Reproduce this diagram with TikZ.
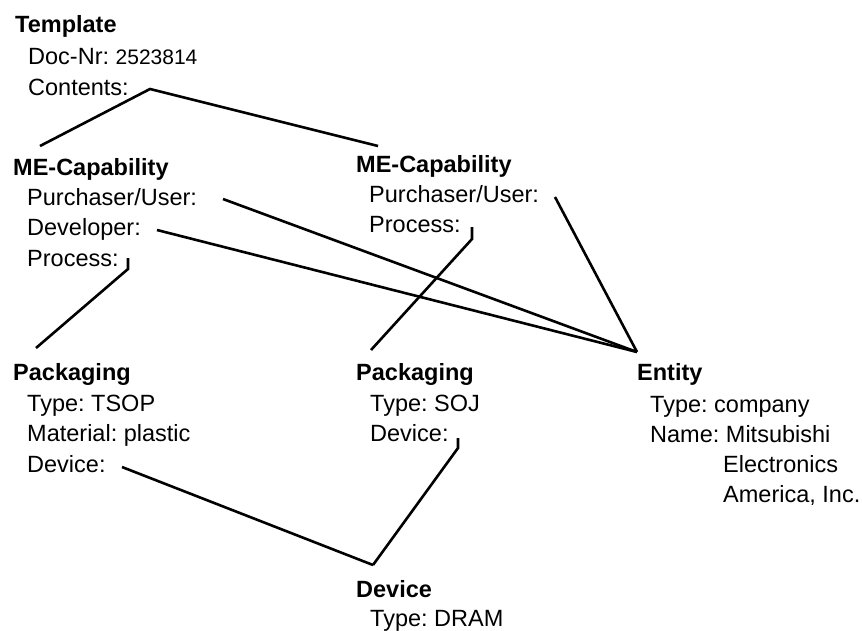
\documentclass[tikz,border=0pt]{standalone}
\usepackage{fontspec}
\setmainfont{Liberation Sans}
\frenchspacing
\begin{document}
\begin{tikzpicture}[x=1pt,y=-1pt,
  txt/.style={anchor=base west,inner sep=0pt,font=\fontsize{23.5}{28}\selectfont\frenchspacing},
  hdr/.style={txt,font=\fontsize{23.5}{28}\selectfont\bfseries\frenchspacing},
  conn/.style={line width=2.6pt,line join=miter}]
\useasboundingbox (0,0) rectangle (862,630);
% Template
\node[hdr] (tpl) at (15,32) {Template};
\node[txt] (tplnr) at (28,64) {Doc-Nr: {\fontsize{21}{26}\selectfont 2523814}};
\node[txt] (tplcont) at (28,95) {Contents:};
% ME-Capability 1
\node[hdr] (me1) at (13,175) {ME-Capability};
\node[txt] (me1pu) at (27,205) {Purchaser/User:};
\node[txt] (me1dev) at (27,235) {Developer:};
\node[txt] (me1pro) at (27,266) {Process:};
% ME-Capability 2
\node[hdr] (me2) at (356,172) {ME-Capability};
\node[txt] (me2pu) at (369,202) {Purchaser/User:};
\node[txt] (me2pro) at (369,232) {Process:};
% Packaging 1
\node[hdr] (pk1) at (13,380) {Packaging};
\node[txt] (pk1t) at (27,411) {Type: TSOP};
\node[txt] (pk1m) at (27,441) {Material: plastic};
\node[txt] (pk1d) at (27,472) {Device:};
% Packaging 2
\node[hdr] (pk2) at (356,380) {Packaging};
\node[txt] (pk2t) at (370,411) {Type: SOJ};
\node[txt] (pk2d) at (370,441) {Device:};
% Entity
\node[hdr] (ent) at (637,380) {Entity};
\node[txt] (entt) at (650,412) {Type: company};
\node[txt] (entn) at (650,442) {Name: Mitsubishi};
\node[txt] (ente) at (723,472) {Electronics};
\node[txt] (enta) at (723,502) {America, Inc.};
% Device
\node[hdr] (dev) at (356,597) {Device};
\node[txt] (devt) at (370,626) {Type: DRAM};
% connector points
\coordinate (cA) at (150,89);
\coordinate (me1top) at (40,146);
\coordinate (me2top) at (378,146);
\coordinate (p1) at (223,199);
\coordinate (d1) at (157,230);
\coordinate (p2) at (555,197);
\coordinate (entA) at (637,352);
\coordinate (pr1a) at (128,258);
\coordinate (pr1b) at (128,269);
\coordinate (pk1top) at (36,348);
\coordinate (pr2a) at (472,227);
\coordinate (pr2b) at (472,239);
\coordinate (pk2top) at (371,350);
\coordinate (dv1) at (122,467);
\coordinate (dv2a) at (458,438);
\coordinate (dv2b) at (458,448);
\coordinate (devA) at (373,565);
% connectors
\draw[conn] (me1top) -- (cA) -- (me2top);
\draw[conn] (p1) -- (entA);
\draw[conn] (d1) -- (entA);
\draw[conn] (p2) -- (entA);
\draw[conn] (pr1a) -- (pr1b) -- (pk1top);
\draw[conn] (pr2a) -- (pr2b) -- (pk2top);
\draw[conn] (dv1) -- (devA);
\draw[conn] (dv2a) -- (dv2b) -- (devA);
\end{tikzpicture}
\end{document}
